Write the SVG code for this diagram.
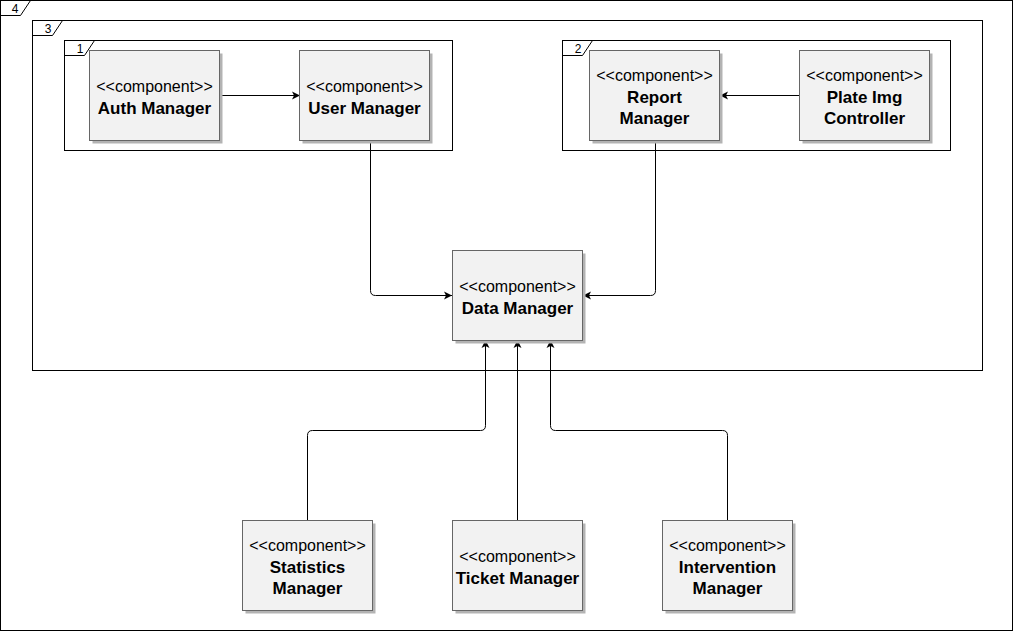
<svg xmlns="http://www.w3.org/2000/svg" width="1013" height="631" viewBox="0 0 1013 631">
<style>
.frame{fill:none;stroke:#000;stroke-width:1}
.flabel{font-family:"Liberation Sans",Arial,sans-serif;font-size:12px;fill:#000;text-anchor:middle}
.box{fill:#f2f2f2;stroke:#666;stroke-width:1}
.shadow{fill:#b3b3b3}
.st{font-family:"Liberation Sans",Arial,sans-serif;font-size:16px;fill:#000;text-anchor:middle}
.nm{font-family:"Liberation Sans",Arial,sans-serif;font-size:17px;font-weight:bold;fill:#000;text-anchor:middle}
.edge{fill:none;stroke:#000;stroke-width:1;marker-end:url(#arr)}
</style>
<defs>
<marker id="arr" markerUnits="userSpaceOnUse" markerWidth="10" markerHeight="10" refX="8" refY="4" orient="auto" viewBox="0 0 10 8">
<path d="M0,0 L8,4 L0,8 L2,4 z" fill="#000"/>
</marker>
</defs>
<rect width="1013" height="631" fill="#fff"/>
<g id="frame4">
<rect class="frame" x="0.5" y="0.5" width="1012" height="630"/>
<path class="frame" d="M0.5,15.5 H20.5 L30.5,0.5"/>
<text class="flabel" x="15" y="13">4</text>
</g>
<g id="frame3">
<rect class="frame" x="32.5" y="20.5" width="950" height="350"/>
<path class="frame" d="M32.5,35.5 H52.5 L62.5,20.5"/>
<text class="flabel" x="48" y="33">3</text>
</g>
<g id="frame1">
<rect class="frame" x="64.5" y="40.5" width="388" height="110"/>
<path class="frame" d="M64.5,55.5 H84.5 L94.5,40.5"/>
<text class="flabel" x="80" y="53">1</text>
</g>
<g id="frame2">
<rect class="frame" x="562.5" y="40.5" width="388" height="110"/>
<path class="frame" d="M562.5,55.5 H582.5 L592.5,40.5"/>
<text class="flabel" x="578" y="53">2</text>
</g>
<g id="connectors">
<path class="edge" d="M220,95.5 H300"/>
<path class="edge" d="M800,95.5 H720"/>
<path class="edge" d="M370.5,140 V290.5 Q370.5,295.5 375.5,295.5 H452"/>
<path class="edge" d="M655.5,140 V290.5 Q655.5,295.5 650.5,295.5 H583"/>
<path class="edge" d="M307.5,520 V435.5 Q307.5,430.5 312.5,430.5 H480.5 Q485.5,430.5 485.5,425.5 V340"/>
<path class="edge" d="M517.5,520 V340"/>
<path class="edge" d="M727.5,520 V435.5 Q727.5,430.5 722.5,430.5 H555.5 Q550.5,430.5 550.5,425.5 V340"/>
</g>
<g id="auth">
<rect class="shadow" x="92.5" y="53.5" width="130" height="90"/>
<rect class="box" x="89.5" y="50.5" width="130" height="90"/>
<text class="st" x="154.5" y="92">&lt;&lt;component&gt;&gt;</text>
<text class="nm" x="154.5" y="113.5">Auth Manager</text>
</g>
<g id="user">
<rect class="shadow" x="302.5" y="53.5" width="130" height="90"/>
<rect class="box" x="299.5" y="50.5" width="130" height="90"/>
<text class="st" x="364.5" y="92">&lt;&lt;component&gt;&gt;</text>
<text class="nm" x="364.5" y="113.5">User Manager</text>
</g>
<g id="report">
<rect class="shadow" x="592.5" y="53.5" width="130" height="90"/>
<rect class="box" x="589.5" y="50.5" width="130" height="90"/>
<text class="st" x="654.5" y="81">&lt;&lt;component&gt;&gt;</text>
<text class="nm" x="654.5" y="103">Report</text>
<text class="nm" x="654.5" y="124">Manager</text>
</g>
<g id="plate">
<rect class="shadow" x="802.5" y="53.5" width="130" height="90"/>
<rect class="box" x="799.5" y="50.5" width="130" height="90"/>
<text class="st" x="864.5" y="81">&lt;&lt;component&gt;&gt;</text>
<text class="nm" x="864.5" y="103">Plate Img</text>
<text class="nm" x="864.5" y="124">Controller</text>
</g>
<g id="data">
<rect class="shadow" x="455.5" y="253.5" width="130" height="90"/>
<rect class="box" x="452.5" y="250.5" width="130" height="90"/>
<text class="st" x="517.5" y="292">&lt;&lt;component&gt;&gt;</text>
<text class="nm" x="517.5" y="313.5">Data Manager</text>
</g>
<g id="statistics">
<rect class="shadow" x="245.5" y="523.5" width="130" height="90"/>
<rect class="box" x="242.5" y="520.5" width="130" height="90"/>
<text class="st" x="307.5" y="551">&lt;&lt;component&gt;&gt;</text>
<text class="nm" x="307.5" y="573">Statistics</text>
<text class="nm" x="307.5" y="594">Manager</text>
</g>
<g id="ticket">
<rect class="shadow" x="455.5" y="523.5" width="130" height="90"/>
<rect class="box" x="452.5" y="520.5" width="130" height="90"/>
<text class="st" x="517.5" y="562">&lt;&lt;component&gt;&gt;</text>
<text class="nm" x="517.5" y="583.5">Ticket Manager</text>
</g>
<g id="intervention">
<rect class="shadow" x="665.5" y="523.5" width="130" height="90"/>
<rect class="box" x="662.5" y="520.5" width="130" height="90"/>
<text class="st" x="727.5" y="551">&lt;&lt;component&gt;&gt;</text>
<text class="nm" x="727.5" y="573">Intervention</text>
<text class="nm" x="727.5" y="594">Manager</text>
</g>
</svg>
